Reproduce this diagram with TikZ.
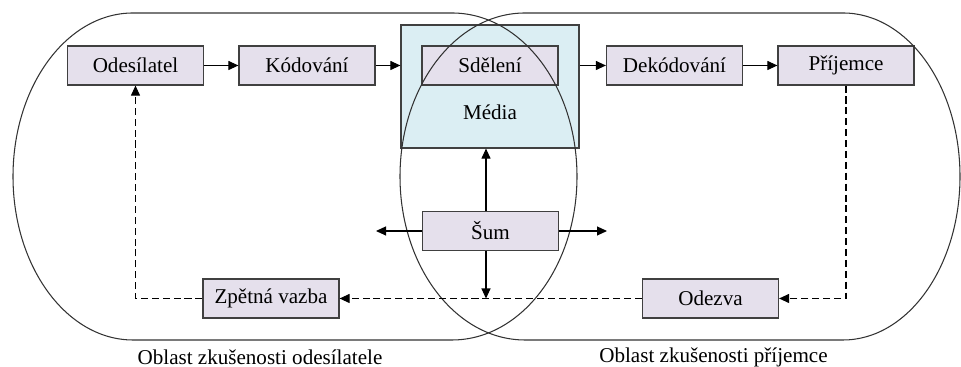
\documentclass[tikz,border=0pt]{standalone}
\usepackage{fontspec}
\setmainfont{Liberation Serif}
\usepackage{xcolor}
\usetikzlibrary{positioning,arrows.meta}
\definecolor{lila}{HTML}{E5E0EC}
\definecolor{modra}{HTML}{DBEEF3}
\definecolor{ram}{HTML}{404040}

\begin{document}
\begin{tikzpicture}[x=0.02cm, y=0.02cm, font=\fontsize{12}{14}\selectfont,
  pg/.style={draw=ram, fill=lila, line width=0.7pt, minimum width=2.72cm, minimum height=0.78cm, inner sep=0pt},
  md/.style={pg, fill=modra, minimum width=3.56cm, minimum height=2.46cm},
  arr/.style={-{Triangle[length=2mm, width=1.8mm]}, line width=0.6pt},
  zp/.style={arr, dash pattern=on 4pt off 2.2pt},
  obl/.style={line width=0.6pt, draw=black!80}]
\useasboundingbox (0,0) rectangle (961,367);
\node[md] (me) at (490,280.5) {};
\node (met) at (490,255) {Média};
\node[pg] (os) at (135.5,301.5) {Odesílatel};
\node[pg] (ko) at (307,301.5) {Kódování};
\node[pg] (sd) at (490,301.5) {Sdělení};
\node[pg] (dk) at (674.5,301.5) {Dekódování};
\node[pg] (pr) at (846,301.5) {Příjemce};
\node[pg] (su) at (490.5,136) {Šum};
\node[pg] (zv) at (271,68.5) {Zpětná vazba};
\node[pg] (od) at (710.5,68.5) {Odezva};
\coordinate (sul) at (376,136);
\coordinate (sur) at (607,136);
\draw[obl] (133,354) -- (452,354) arc[start angle=90, end angle=-90, x radius=125, y radius=163.5] -- (133,27) arc[start angle=270, end angle=90, x radius=120, y radius=163.5] -- cycle;
\draw[obl] (525,354) -- (843,354) arc[start angle=90, end angle=-90, x radius=117, y radius=163.5] -- (525,27) arc[start angle=270, end angle=90, x radius=125, y radius=163.5] -- cycle;
\draw[arr] (os) -- (ko); \draw[arr] (ko.east) -- (ko.east -| me.west);
\draw[arr] (dk.west -| me.east) -- (dk); \draw[arr] (dk) -- (pr);
\draw[arr] ([xshift=-0.09cm]su.north) -- ([xshift=-0.09cm]su.north |- me.south);
\draw[arr] ([xshift=-0.09cm]su.south) -- ([xshift=-0.09cm]su.south |- zv.east);
\draw[arr] (su.west) -- (sul); \draw[arr] (su.east) -- (sur);
\draw[zp] (pr.south) |- (od.east);
\draw[zp] (od) -- (zv);
\draw[zp] (zv.west) -| (os.south);
\node (lo) at (260,10) {Oblast zkušenosti odesílatele};
\node (lp) at (713.5,10) {Oblast zkušenosti příjemce};
\end{tikzpicture}
\end{document}
